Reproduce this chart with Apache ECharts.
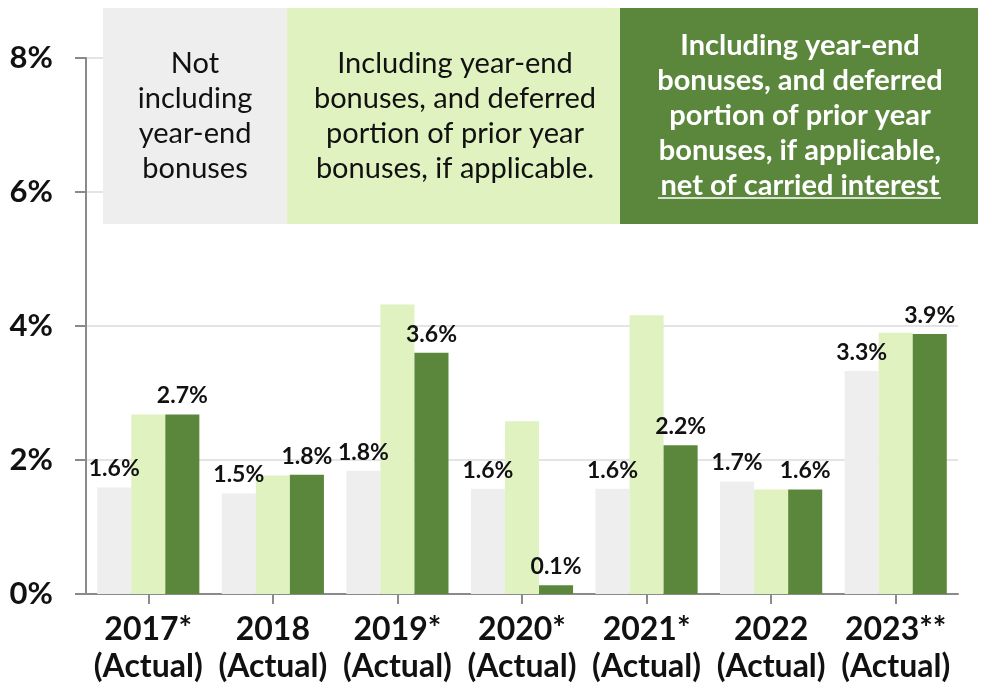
<!DOCTYPE html>
<html>
<head>
<meta charset="utf-8">
<script src="https://cdn.jsdelivr.net/npm/echarts@6/dist/echarts.min.js"></script>
<style>
  html, body { margin: 0; padding: 0; background: #ffffff; }
  #chart { width: 982px; height: 687px; }
</style>
</head>
<body>
<div id="chart"></div>
<script>
// Category labels (year + basis)
const years = ['2017*', '2018', '2019*', '2020*', '2021*', '2022', '2023**'];
const basis = ['(Actual)', '(Actual)', '(Actual)', '(Actual)', '(Actual)', '(Actual)', '(Actual)'];

// Percent values per series
const excludingBonuses = [1.59, 1.50, 1.84, 1.57, 1.57, 1.68, 3.33];
const includingBonuses = [2.68, 1.77, 4.32, 2.58, 4.16, 1.56, 3.90];
const netOfCarry = [2.68, 1.78, 3.60, 0.13, 2.22, 1.56, 3.88];

// Y axis ticks
const yMin = 0, yMax = 8, yStep = 2;

// Panel headings explaining each series
const panelGrey = 'Not\nincluding\nyear-end\nbonuses';
const panelLight = 'Including year-end\nbonuses, and deferred\nportion of prior year\nbonuses, if applicable.';
const panelDark = 'Including year-end\nbonuses, and deferred\nportion of prior year\nbonuses, if applicable,\nnet of carried interest';

const COLORS = { grey: '#eeeeee', light: '#dff2c0', dark: '#5b873c' };
const FONT = 'Lato, "Open Sans", sans-serif';

const chart = echarts.init(document.getElementById('chart'), null, { renderer: 'canvas' });

const valueLabel = {
  show: true,
  position: 'top',
  distance: 7,
  color: '#111',
  fontFamily: FONT,
  fontWeight: 'bold',
  fontSize: 23,
  formatter: p => p.value.toFixed(1) + '%'
};

const option = {
  backgroundColor: '#ffffff',
  animation: false,
  grid: { left: 86, right: 24, top: 58, bottom: 93, containLabel: false },
  xAxis: {
    type: 'category',
    data: years.map((y, i) => y + '\n' + basis[i]),
    axisLine: { show: true, lineStyle: { color: '#8a8a8a', width: 2 } },
    axisTick: { show: true, alignWithLabel: true, length: 10, lineStyle: { color: '#8a8a8a', width: 2 } },
    axisLabel: {
      color: '#111', fontFamily: FONT, fontWeight: 'bold', fontSize: 32,
      lineHeight: 37, margin: 17, interval: 0
    },
    splitLine: { show: false }
  },
  yAxis: {
    type: 'value',
    min: yMin, max: yMax, interval: yStep,
    axisLine: { show: true, lineStyle: { color: '#8a8a8a', width: 2 } },
    axisTick: { show: true, length: 11, lineStyle: { color: '#8a8a8a', width: 2 } },
    axisLabel: {
      formatter: '{value}%', color: '#111', fontFamily: FONT, fontWeight: 'bold',
      fontSize: 31, margin: 33
    },
    splitLine: { show: true, lineStyle: { color: '#e4e4e4', width: 2 } }
  },
  series: [
    {
      name: 'Not including year-end bonuses',
      type: 'bar', data: excludingBonuses, barGap: '0%', barCategoryGap: '18%',
      itemStyle: { color: COLORS.grey }, label: valueLabel
    },
    {
      name: 'Including year-end bonuses',
      type: 'bar', data: includingBonuses, barGap: '0%', barCategoryGap: '18%',
      itemStyle: { color: COLORS.light }, label: { show: false }
    },
    {
      name: 'Net of carried interest',
      type: 'bar', data: netOfCarry, barGap: '0%', barCategoryGap: '18%',
      itemStyle: { color: COLORS.dark }, label: valueLabel
    }
  ],
  graphic: [
    { type: 'rect', z: 100, shape: { x: 103, y: 8, width: 184, height: 216 }, style: { fill: COLORS.grey } },
    { type: 'rect', z: 100, shape: { x: 287, y: 8, width: 333, height: 216 }, style: { fill: COLORS.light } },
    { type: 'rect', z: 100, shape: { x: 620, y: 8, width: 358, height: 216 }, style: { fill: COLORS.dark } },
    {
      type: 'text', z: 101, x: 195, y: 116,
      style: { text: panelGrey, align: 'center', verticalAlign: 'middle', fill: '#111',
               fontFamily: FONT, fontSize: 29, lineHeight: 35 }
    },
    {
      type: 'text', z: 101, x: 455, y: 116,
      style: { text: panelLight, align: 'center', verticalAlign: 'middle', fill: '#111',
               fontFamily: FONT, fontSize: 29, lineHeight: 35 }
    },
    {
      type: 'text', z: 101, x: 800, y: 116,
      style: { text: panelDark, align: 'center', verticalAlign: 'middle', fill: '#ffffff',
               fontFamily: FONT, fontWeight: 'bold', fontSize: 29, lineHeight: 35 }
    },
    { type: 'line', z: 101, shape: { x1: 658, y1: 198, x2: 941, y2: 198 }, style: { stroke: '#ffffff', lineWidth: 1.5 } }
  ]
};

chart.setOption(option);
</script>
</body>
</html>
